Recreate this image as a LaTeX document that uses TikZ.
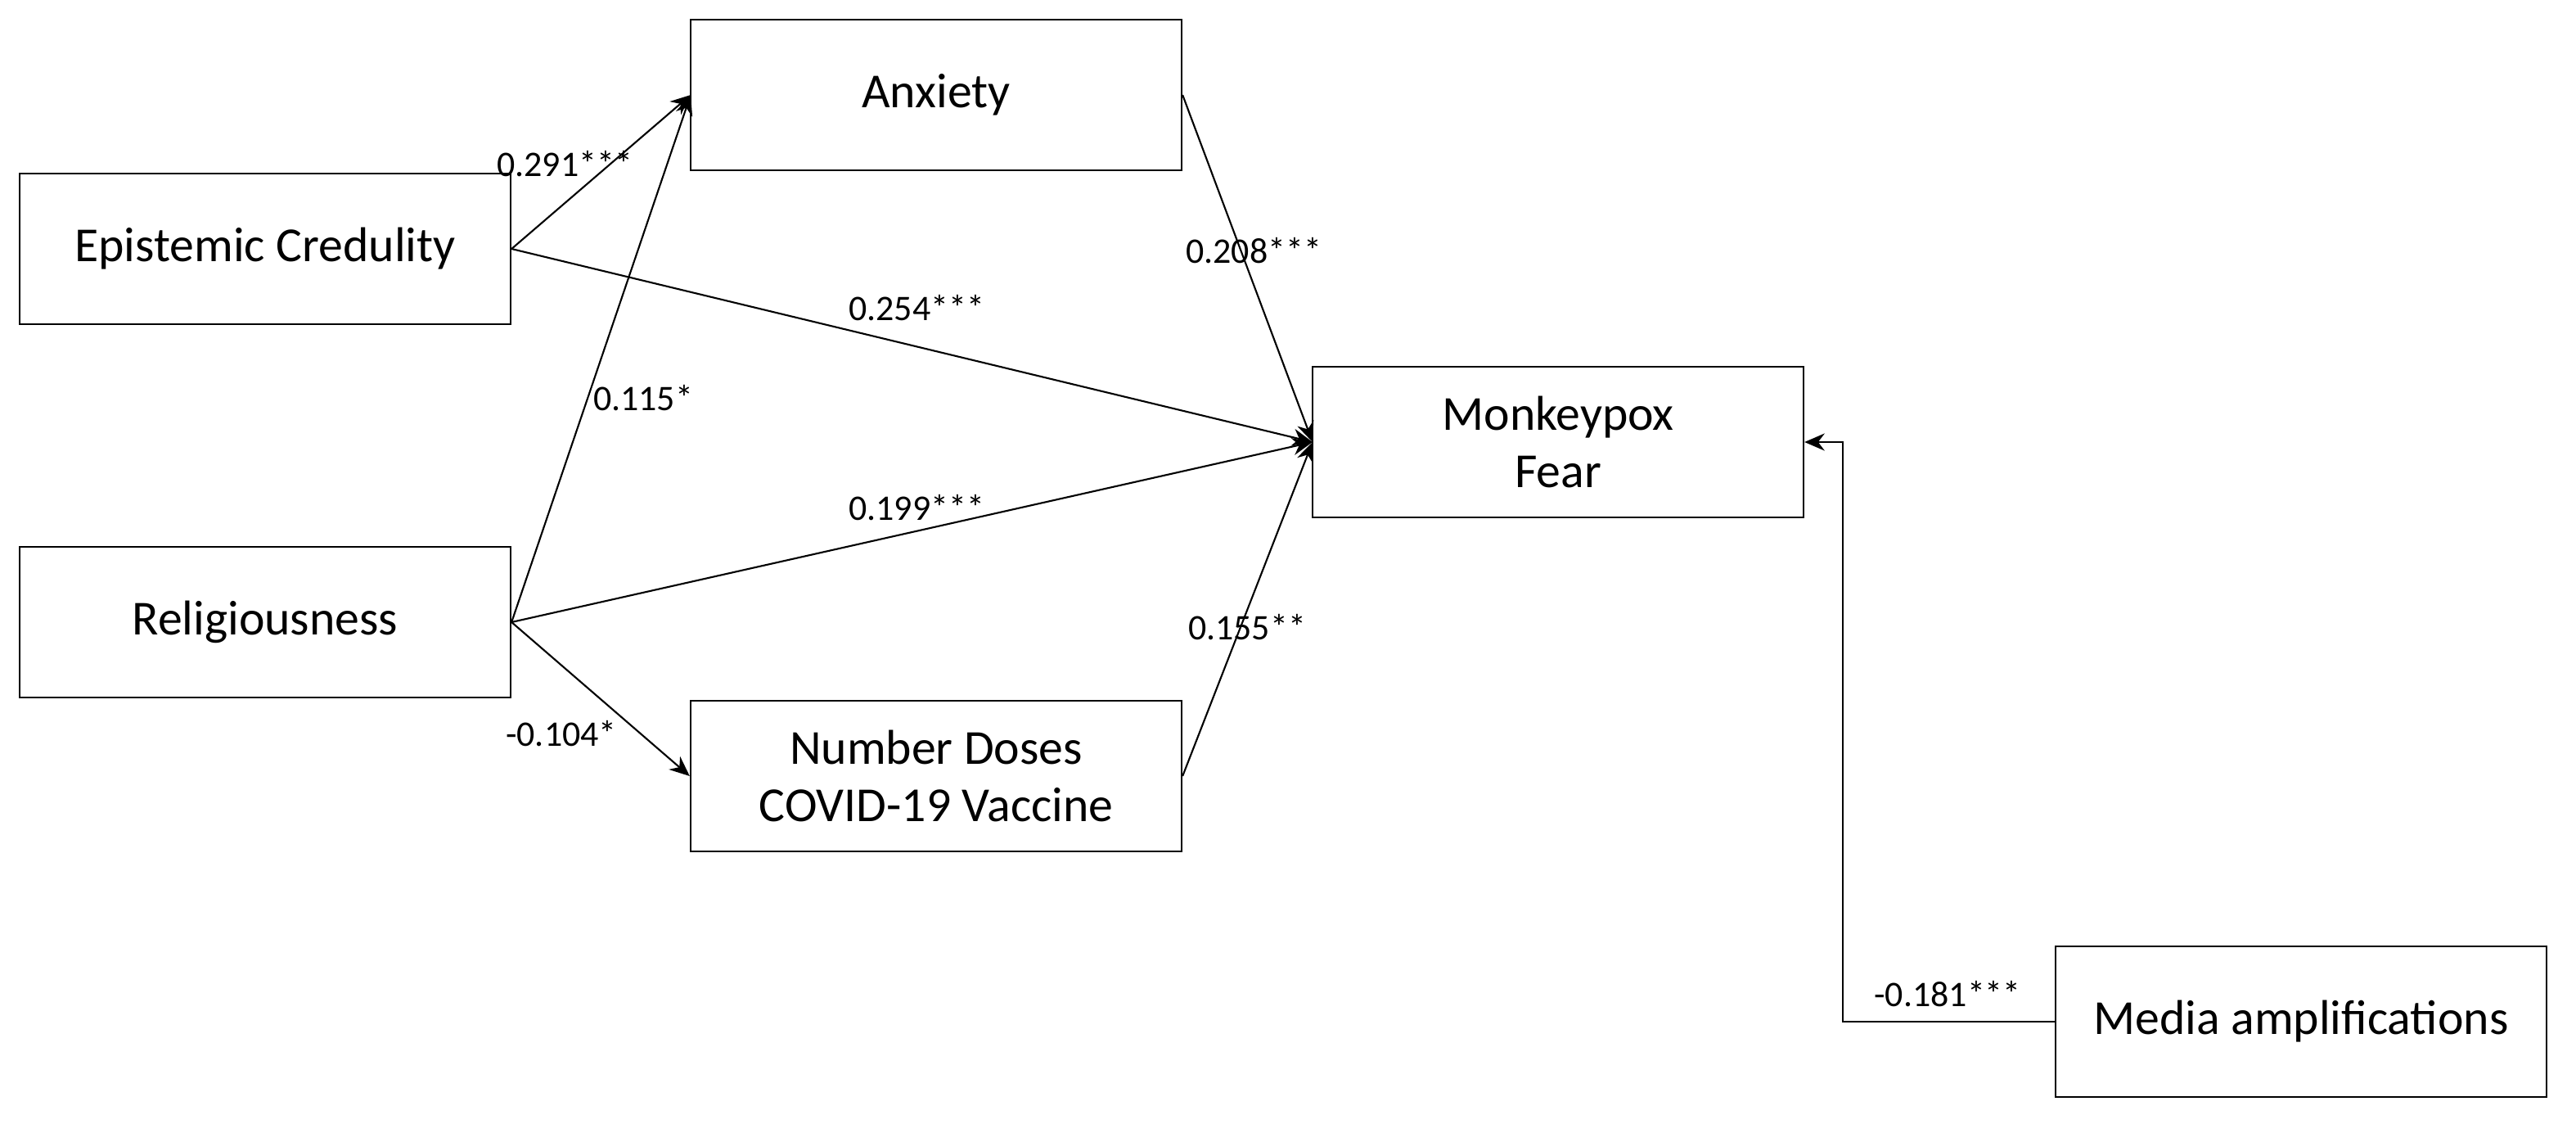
\documentclass[tikz,border=0pt]{standalone}
\usepackage{fontspec}
\setmainfont{Carlito}
\usetikzlibrary{arrows.meta}
\begin{document}
\begin{tikzpicture}[x=0.02cm,y=-0.02cm,
  box/.style={draw,line width=0.7pt,minimum width=6cm,minimum height=1.84cm,inner sep=0pt,font=\fontsize{17}{20}\selectfont,align=center},
  lab/.style={font=\fontsize{12.5}{14}\selectfont},
  arr/.style={line width=0.6pt,-{Stealth[length=7pt,width=6pt]}}]
\useasboundingbox (0,0) rectangle (1574,686);
\node[box] (anx) at (572,58) {Anxiety};
\node[box] (epi) at (162,152) {Epistemic Credulity};
\node[box] (rel) at (162,380) {Religiousness};
\node[box] (num) at (572,474) {Number Doses\\COVID-19 Vaccine};
\node[box] (fear) at (952,270) {Monkeypox\\Fear};
\node[box] (med) at (1406,624) {Media amplifications};
\coordinate (anxIn) at (422,58);
\coordinate (fearIn) at (802,270);
\coordinate (c1) at (1126,624);
\draw[arr] (epi.east) -- (anxIn);
\draw[arr] (rel.east) -- (anxIn);
\draw[arr] (epi.east) -- (fearIn);
\draw[arr] (rel.east) -- (fearIn);
\draw[arr] (anx.east) -- (fearIn);
\draw[arr] (num.east) -- (fearIn);
\draw[arr] (rel.east) -- (num.west);
\draw[arr] (med.west) -- (c1) |- (fear.east);
\node[lab] at (345,100) {0.291***};
\node[lab] at (560,188) {0.254***};
\node[lab] at (393,243) {0.115*};
\node[lab] at (560,310) {0.199***};
\node[lab] at (343,448) {-0.104*};
\node[lab] at (766,153) {0.208***};
\node[lab] at (762,383) {0.155**};
\node[lab] at (1190,607) {-0.181***};
\end{tikzpicture}
\end{document}
